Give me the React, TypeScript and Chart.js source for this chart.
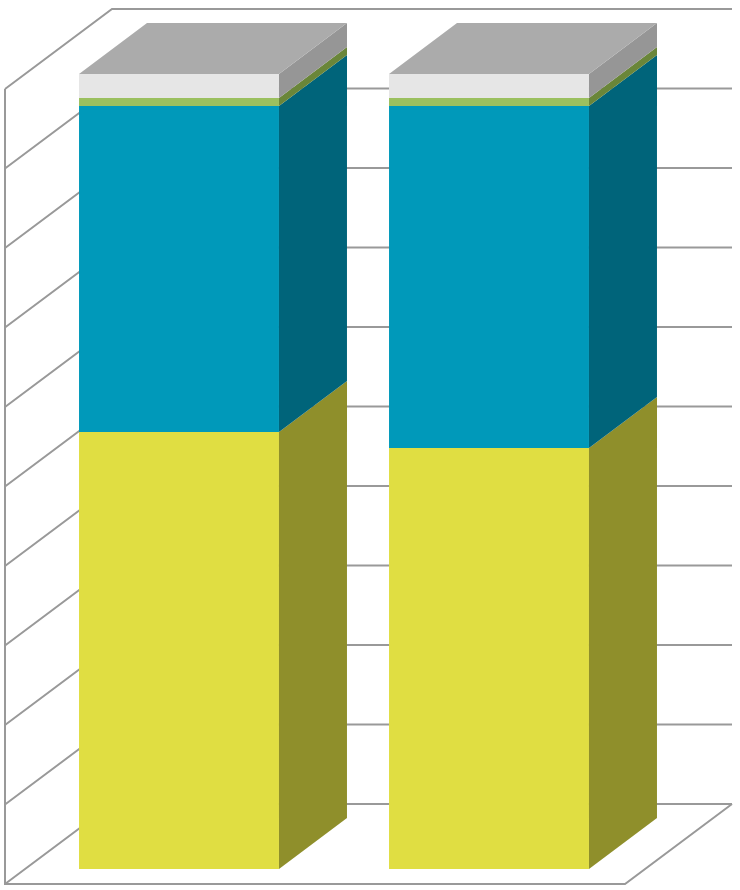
import React, { useEffect, useRef } from "react";
import { Chart, registerables } from "chart.js";

Chart.register(...registerables);

const categories = ["A", "B"];
const seriesYellow = [54.969, 52.956];
const seriesBlue = [41.006, 43.019];
const seriesGreen = [1.006, 1.006];
const seriesWhite = [3.019, 3.019];
const gridTicks = [0, 10, 20, 30, 40, 50, 60, 70, 80, 90, 100];

const frontColors = ["#e0de42", "#0099ba", "#9bc05f", "#e6e6e6"];
const sideColors = ["#8f8f2b", "#00647a", "#6a8639", "#969696"];
const topColor = "#ababab";
const lineColor = "#999999";

// depth of a bar, and of the walls in front of and behind the bar plane
const barDepth = { x: 68, y: -51 };
const wallFront = { x: -19, y: 15 };
const wallBack = { x: 88, y: -65 };

const wallsPlugin = {
  id: "walls",
  beforeDatasetsDraw(chart: Chart) {
    const { ctx, chartArea, scales } = chart;
    const y = scales.y;
    const left = chartArea.left;
    const right = chartArea.right;
    ctx.save();
    ctx.strokeStyle = lineColor;
    ctx.lineWidth = 2;
    gridTicks.forEach((t) => {
      const py = y.getPixelForValue(t);
      ctx.beginPath();
      ctx.moveTo(left + wallFront.x, py + wallFront.y);
      ctx.lineTo(left + wallBack.x, py + wallBack.y);
      ctx.lineTo(right + wallBack.x, py + wallBack.y);
      ctx.stroke();
    });
    // left edge and floor
    const top = y.getPixelForValue(100);
    const bottom = y.getPixelForValue(0);
    ctx.beginPath();
    ctx.moveTo(left + wallFront.x, top + wallFront.y);
    ctx.lineTo(left + wallFront.x, bottom + wallFront.y);
    ctx.lineTo(right + wallFront.x, bottom + wallFront.y);
    ctx.lineTo(right + wallBack.x, bottom + wallBack.y);
    ctx.stroke();
    ctx.restore();
  },
};

const faces3dPlugin = {
  id: "faces3d",
  afterDatasetsDraw(chart: Chart) {
    const { ctx } = chart;
    const quad = (
      x1: number,
      y1: number,
      x2: number,
      y2: number,
      x3: number,
      y3: number,
      x4: number,
      y4: number,
      color: string
    ) => {
      ctx.fillStyle = color;
      ctx.beginPath();
      ctx.moveTo(x1, y1);
      ctx.lineTo(x2, y2);
      ctx.lineTo(x3, y3);
      ctx.lineTo(x4, y4);
      ctx.closePath();
      ctx.fill();
    };
    ctx.save();
    chart.data.datasets.forEach((_, di) => {
      chart.getDatasetMeta(di).data.forEach((el: any) => {
        const p = el.getProps(["x", "y", "base", "width"], true);
        const r = p.x + p.width / 2;
        const l = p.x - p.width / 2;
        quad(
          r, p.y,
          r + barDepth.x, p.y + barDepth.y,
          r + barDepth.x, p.base + barDepth.y,
          r, p.base,
          sideColors[di]
        );
        if (di === chart.data.datasets.length - 1) {
          quad(
            l, p.y,
            l + barDepth.x, p.y + barDepth.y,
            r + barDepth.x, p.y + barDepth.y,
            r, p.y,
            topColor
          );
        }
      });
    });
    ctx.restore();
  },
};

const App = () => {
  const chartRef = useRef<HTMLCanvasElement | null>(null);

  useEffect(() => {
    document.body.style.margin = "0";
    const ctx = chartRef.current?.getContext("2d");
    if (!ctx) return;

    const chart = new Chart(ctx, {
      type: "bar",
      data: {
        labels: categories,
        datasets: [
          { label: "Yellow", data: seriesYellow, backgroundColor: frontColors[0] },
          { label: "Blue", data: seriesBlue, backgroundColor: frontColors[1] },
          { label: "Green", data: seriesGreen, backgroundColor: frontColors[2] },
          { label: "White", data: seriesWhite, backgroundColor: frontColors[3] },
        ],
      },
      options: {
        responsive: false,
        animation: false,
        layout: { padding: { left: 24, right: 96, top: 74, bottom: 21 } },
        datasets: { bar: { categoryPercentage: 1, barPercentage: 0.645 } },
        scales: {
          x: { stacked: true, display: false },
          y: { stacked: true, display: false, min: 0, max: 100 },
        },
        plugins: {
          legend: { display: false },
          tooltip: { enabled: false },
        },
      },
      plugins: [wallsPlugin, faces3dPlugin],
    });

    return () => {
      chart.destroy();
    };
  }, []);

  return (
    <canvas
      ref={chartRef}
      width={740}
      height={890}
      style={{ display: "block", width: 740, height: 890 }}
    />
  );
};

export default App;
